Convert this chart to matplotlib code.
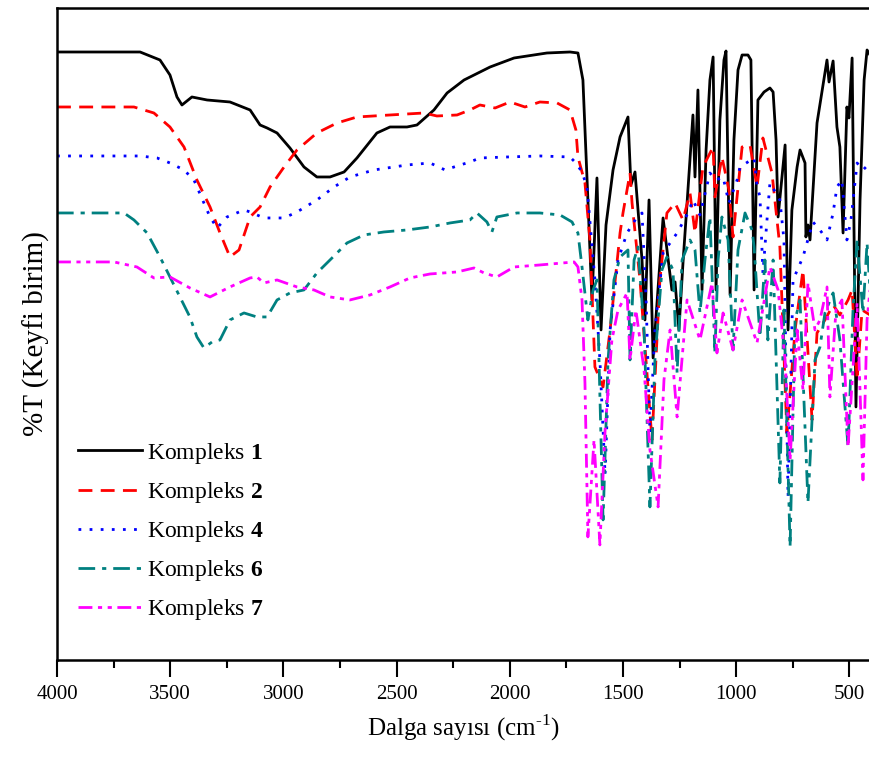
import matplotlib.pyplot as plt

plt.rcParams['font.family'] = ['Liberation Serif', 'DejaVu Serif']
plt.rcParams['mathtext.fontset'] = 'custom'
plt.rcParams['mathtext.rm'] = 'Liberation Serif'
plt.rcParams['mathtext.bf'] = 'Liberation Serif:bold'

# IR spektrumlari (dalga sayisi, %T keyfi birim) - grafikten okunan yaklasik degerler
k1_wn = [4000, 3633, 3545, 3501, 3470, 3448, 3404, 3337, 3236, 3147, 3103, 3072, 3028, 2971,
         2909, 2852, 2794, 2732, 2675, 2587, 2529, 2454, 2410, 2335, 2277, 2202, 2087, 1981,
         1836, 1734, 1699, 1677, 1655, 1637, 1615, 1597, 1575, 1544, 1513, 1478, 1465, 1447,
         1416, 1403, 1385, 1367, 1323, 1284, 1270, 1253, 1235, 1217, 1191, 1182, 1169, 1151,
         1133, 1116, 1102, 1089, 1072, 1054, 1045, 1027, 1010, 992, 974, 948, 935, 921, 904,
         877, 851, 837, 824, 815, 784, 771, 754, 731, 718, 696, 692, 683, 674, 643, 599, 590,
         572, 555, 542, 528, 511, 502, 488, 471, 453, 435, 422, 409]
k1_t = [608, 608, 600, 585, 563, 555, 563, 560, 558, 550, 535, 532, 527, 512,
        493, 483, 483, 488, 502, 527, 533, 533, 535, 550, 567, 580, 593, 602,
        607, 608, 607, 580, 460, 360, 482, 330, 435, 490, 523, 543, 475, 488,
        400, 340, 460, 302, 442, 370, 378, 330, 397, 457, 545, 483, 570, 370,
        510, 580, 603, 370, 540, 600, 609, 365, 520, 590, 605, 605, 600, 370, 560,
        568, 572, 568, 520, 443, 515, 330, 450, 493, 510, 497, 423, 435, 420, 537, 600, 578,
        599, 533, 513, 427, 553, 542, 602, 253, 460, 580, 610, 605]

k2_wn = [4000, 3660, 3572, 3501, 3439, 3382, 3324, 3280, 3236, 3196, 3147, 3103, 3059, 2997,
         2940, 2852, 2763, 2675, 2529, 2379, 2322, 2233, 2176, 2132, 2065, 1999, 1933, 1867,
         1791, 1734, 1708, 1699, 1668, 1646, 1624, 1588, 1557, 1513, 1500, 1469, 1460, 1425,
         1372, 1337, 1306, 1270, 1235, 1204, 1182, 1147, 1102, 1094, 1063, 1032, 1014, 974,
         939, 908, 882, 842, 807, 776, 740, 705, 665, 643, 608, 572, 542, 506, 488, 466, 444, 409]
k2_t = [553, 553, 547, 533, 513, 480, 453, 427, 403, 410, 443, 453, 473, 493,
        510, 527, 537, 543, 545, 547, 544, 545, 550, 555, 552, 558, 553, 558,
        557, 550, 530, 503, 477, 420, 293, 273, 330, 427, 447, 487, 457, 380,
        220, 380, 447, 457, 440, 467, 427, 493, 513, 463, 503, 470, 423, 513,
        515, 473, 522, 487, 413, 227, 330, 390, 240, 327, 340, 355, 345, 360, 370, 280, 350, 345]

k4_wn = [4000, 3633, 3558, 3501, 3439, 3395, 3351, 3324, 3293, 3249, 3174, 3147, 3086, 2997,
         2940, 2852, 2776, 2706, 2600, 2454, 2352, 2286, 2233, 2176, 2132, 2012, 1867, 1734,
         1708, 1681, 1659, 1624, 1602, 1579, 1557, 1522, 1482, 1438, 1416, 1398, 1381, 1359,
         1323, 1261, 1213, 1191, 1160, 1116, 1089, 1058, 1032, 996, 983, 921, 908, 895, 882,
         864, 851, 807, 789, 771, 749, 705, 661, 630, 599, 572, 555, 533, 511, 493, 466, 440, 409]
k4_t = [504, 504, 502, 497, 490, 480, 457, 443, 432, 443, 450, 448, 442, 442,
        448, 460, 473, 483, 490, 495, 497, 490, 494, 498, 502, 503, 504, 503,
        497, 488, 473, 380, 300, 185, 330, 400, 427, 443, 447, 360, 227, 330,
        407, 427, 447, 460, 445, 487, 480, 483, 457, 480, 493, 502, 475, 463, 387,
        440, 477, 460, 420, 163, 380, 403, 438, 430, 420, 447, 473, 480, 420, 440, 497, 490, 497]

k6_wn = [4000, 3704, 3660, 3602, 3545, 3501, 3457, 3413, 3382, 3351, 3315, 3280, 3236, 3174,
         3117, 3072, 3028, 2971, 2909, 2852, 2794, 2719, 2644, 2556, 2454, 2352, 2264, 2176,
         2145, 2101, 2079, 2057, 1968, 1867, 1778, 1725, 1708, 1699, 1681, 1655, 1632, 1615,
         1588, 1566, 1540, 1513, 1478, 1469, 1451, 1434, 1407, 1381, 1359, 1328, 1306, 1279,
         1261, 1239, 1204, 1182, 1160, 1138, 1116, 1094, 1080, 1063, 1036, 1014, 992, 961,
         930, 921, 895, 873, 860, 837, 807, 789, 762, 740, 718, 683, 652, 630, 608, 572, 542,
         506, 484, 466, 440, 422, 409]
k6_t = [447, 447, 440, 427, 403, 383, 363, 343, 323, 312, 318, 320, 340, 347,
        343, 343, 360, 367, 370, 387, 400, 417, 425, 428, 430, 433, 437, 440,
        447, 438, 428, 443, 447, 447, 445, 438, 430, 427, 393, 340, 370, 380,
        140, 300, 380, 403, 410, 300, 400, 413, 330, 153, 300, 390, 403, 390,
        287, 400, 420, 410, 347, 400, 443, 307, 400, 443, 420, 310, 410, 447,
        430, 413, 323, 400, 320, 400, 177, 350, 113, 340, 360, 157, 300, 313, 347, 367, 320,
        213, 350, 420, 347, 417, 370]

k7_wn = [4000, 3748, 3647, 3572, 3501, 3413, 3324, 3236, 3147, 3117, 3086, 3028, 2940, 2865,
         2794, 2706, 2617, 2529, 2441, 2352, 2233, 2158, 2114, 2057, 1981, 1867, 1716, 1699,
         1681, 1668, 1655, 1628, 1602, 1579, 1549, 1522, 1482, 1469, 1443, 1407, 1381, 1345,
         1319, 1292, 1261, 1217, 1160, 1107, 1085, 1058, 1014, 974, 908, 851, 815, 784, 762,
         731, 705, 683, 652, 630, 599, 586, 559, 533, 506, 466, 440, 422, 409]
k7_t = [398, 398, 393, 382, 383, 372, 363, 373, 382, 383, 377, 380, 373, 370,
        363, 360, 365, 373, 382, 386, 388, 392, 387, 383, 393, 395, 398, 393,
        360, 277, 123, 220, 115, 230, 320, 350, 367, 300, 350, 290, 210, 153,
        280, 330, 243, 360, 320, 377, 307, 347, 310, 360, 317, 393, 370, 300, 200,
        330, 270, 377, 330, 340, 373, 263, 350, 360, 213, 357, 180, 340, 370]

series = [
    (k1_wn, k1_t, 'black', '-', r'Kompleks $\mathbf{1}$'),
    (k2_wn, k2_t, '#ff0000', (0, (5, 3)), r'Kompleks $\mathbf{2}$'),
    (k4_wn, k4_t, '#0000ff', (0, (1, 3)), r'Kompleks $\mathbf{4}$'),
    (k6_wn, k6_t, '#008080', (0, (6, 2.5, 1.5, 2.5)), r'Kompleks $\mathbf{6}$'),
    (k7_wn, k7_t, '#ff00ff', (0, (5, 2, 1.5, 2, 1.5, 2)), r'Kompleks $\mathbf{7}$'),
]

fig = plt.figure(figsize=(8.7, 7.62), dpi=100)
ax = fig.add_axes([0.0655, 0.134, 0.9345, 0.8555])
for wn, t, c, ls, lab in series:
    ax.plot(wn, t, color=c, linestyle=ls, linewidth=2, label=lab)

ax.set_xlim(4000, 409)
ax.set_ylim(0, 652)
ax.set_xticks([4000, 3500, 3000, 2500, 2000, 1500, 1000, 500])
ax.set_xticks([3750, 3250, 2750, 2250, 1750, 1250, 750], minor=True)
ax.tick_params(axis='x', which='major', direction='out', length=12, width=1.5,
               labelsize=15, pad=6)
ax.tick_params(axis='x', which='minor', direction='out', length=6, width=1.5)
ax.set_yticks([])
for s in ax.spines.values():
    s.set_linewidth(1.8)

ax.set_xlabel(r'Dalga sayısı (cm$^{\text{-1}}$)', fontsize=18, labelpad=6)
ax.set_ylabel('%T (Keyfi birim)', fontsize=21, labelpad=5)

ax.legend(loc='lower left', bbox_to_anchor=(0.0, 0.025), frameon=False, fontsize=17,
          handlelength=2.7, handletextpad=0.2, labelspacing=0.6)

fig.savefig('out.png', dpi=100)
